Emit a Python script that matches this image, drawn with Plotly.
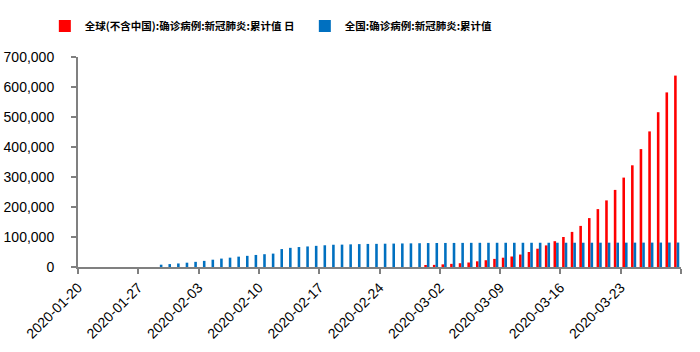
import plotly.graph_objects as go
import pandas as pd

dates = pd.date_range("2020-01-20", "2020-03-29", freq="D").strftime("%Y-%m-%d").tolist()

# 全国:确诊病例:新冠肺炎:累计值 (from 2020-01-29)
china = [None] * 9 + [
    7711, 9692, 11791, 14380, 17205, 20438, 24324, 28018, 31161, 34546,
    37198, 40171, 42638, 44653, 59804, 63851, 66492, 68500, 70548, 72436,
    74185, 74576, 75465, 76288, 76936, 77150, 77658, 78064, 78497, 78824,
    79251, 79824, 80026, 80151, 80270, 80409, 80552, 80651, 80695, 80735,
    80754, 80778, 80793, 80813, 80824, 80844, 80860, 80881, 80894, 80928,
    80967, 81008, 81054, 81093, 81171, 81218, 81285, 81340, 81394, 81470,
    81518,
]

# 全球(不含中国):确诊病例:新冠肺炎:累计值 (from 2020-02-29)
world_ex_china = [None] * 40 + [
    5800, 7100, 8800, 10500, 12600, 15000, 19000, 22600, 27000, 31000,
    35000, 41500, 50000, 61000, 72000, 86000, 100000, 117000, 137000, 163000,
    193000, 222000, 257000, 298000, 339000, 393000, 452000, 516000, 582000, 638000,
]

tick_dates = ["2020-01-20", "2020-01-27", "2020-02-03", "2020-02-10", "2020-02-17",
              "2020-02-24", "2020-03-02", "2020-03-09", "2020-03-16", "2020-03-23", "2020-03-30"]
tick_labels = ["2020-01-20", "2020-01-27", "2020-02-03", "2020-02-10", "2020-02-17",
               "2020-02-24", "2020-03-02", "2020-03-09", "2020-03-16", "2020-03-23", ""]

name_world = "全球(不含中国):确诊病例:新冠肺炎:累计值 日"
name_china = "全国:确诊病例:新冠肺炎:累计值"

fig = go.Figure()
fig.add_trace(go.Bar(x=dates, y=world_ex_china, name=name_world,
                     marker=dict(color="#FF0000", line=dict(width=0)),
                     xperiod=86400000, xperiodalignment="middle"))
fig.add_trace(go.Bar(x=dates, y=china, name=name_china,
                     marker=dict(color="#0070C0", line=dict(width=0)),
                     xperiod=86400000, xperiodalignment="middle"))

axis_font = dict(family="Liberation Sans, Arial, sans-serif", size=14, color="#000000")

fig.update_layout(
    width=700, height=352,
    margin=dict(l=78, r=19, t=57, b=85, autoexpand=False),
    paper_bgcolor="white", plot_bgcolor="white",
    barmode="group", bargap=0.4, bargroupgap=0,
    showlegend=True,
    legend=dict(orientation="h", x=-0.055, xanchor="left", y=1.148, yanchor="middle",
                entrywidth=215, entrywidthmode="pixels",
                font=dict(family="Noto Sans CJK SC", size=10.5, color="#000000", weight="bold"),
                itemwidth=30, tracegroupgap=0, bgcolor="rgba(0,0,0,0)"),
    xaxis=dict(type="date", range=["2020-01-20", "2020-03-30"],
               tickmode="array", tickvals=tick_dates, ticktext=tick_labels,
               tickangle=-45, tickfont=axis_font, automargin=False,
               ticks="outside", ticklen=5, tickwidth=2, tickcolor="#808080",
               showline=True, linecolor="#808080", linewidth=2,
               showgrid=False, zeroline=False),
    yaxis=dict(range=[0, 700000], dtick=100000, tickformat=",",
               tickfont=axis_font, automargin=False,
               ticks="outside", ticklen=5, tickwidth=2, tickcolor="#808080",
               ticklabelstandoff=14,
               showline=True, linecolor="#808080", linewidth=2,
               showgrid=False, zeroline=False),
)

fig.write_html("out.html")
